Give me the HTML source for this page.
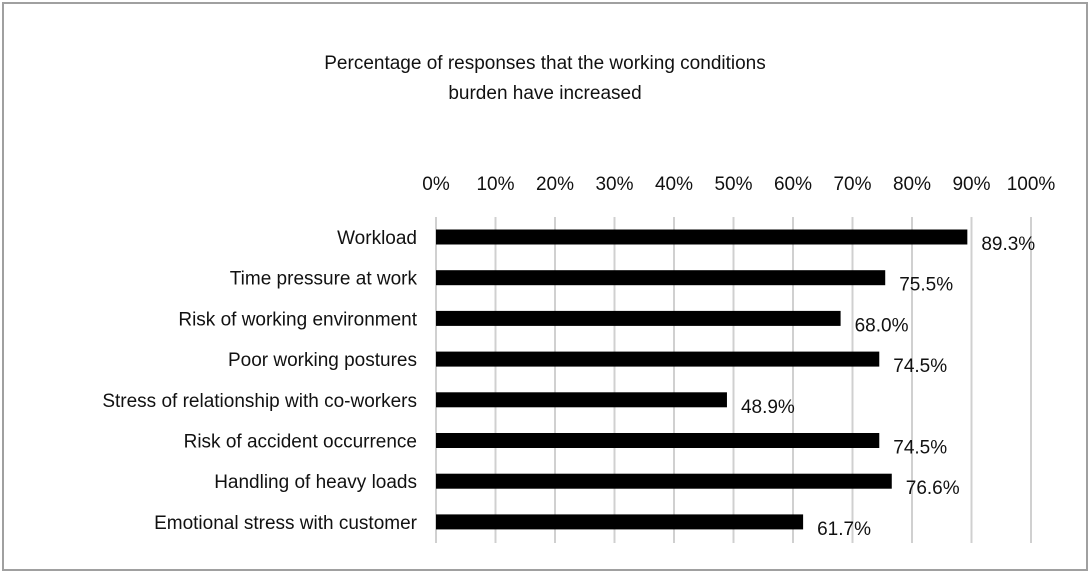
<!DOCTYPE html>
<html><head><meta charset="utf-8"><style>
body{margin:0;background:#fff;width:1090px;height:574px;overflow:hidden;font-family:"Liberation Sans",Arial,sans-serif}
svg{display:block}
</style></head><body>
<svg width="1090" height="574">
<rect x="3" y="3" width="1084" height="567" fill="#fff" stroke="#a0a0a0" stroke-width="2"/>
<text x="545" y="69" text-anchor="middle" font-size="19" fill="#111">Percentage of responses that the working conditions</text>
<text x="545" y="99" text-anchor="middle" font-size="19" fill="#111">burden have increased</text>
<g id="grid"></g><g id="ticks"></g><g id="bars"></g>
</svg>
<script>
const categories=["Workload","Time pressure at work","Risk of working environment","Poor working postures","Stress of relationship with co-workers","Risk of accident occurrence","Handling of heavy loads","Emotional stress with customer"];
const values=[89.3,75.5,68.0,74.5,48.9,74.5,76.6,61.7];
const valueLabels=["89.3%","75.5%","68.0%","74.5%","48.9%","74.5%","76.6%","61.7%"];
const tickValues=[0,10,20,30,40,50,60,70,80,90,100];
const tickLabels=["0%","10%","20%","30%","40%","50%","60%","70%","80%","90%","100%"];
const NS="http://www.w3.org/2000/svg";
const x=v=>436+v*5.95;
const y=i=>237+i*40.7;
function mk(t,a,p){const e=document.createElementNS(NS,t);for(const k in a)e.setAttribute(k,a[k]);p.appendChild(e);return e;}
const grid=document.getElementById('grid'),ticks=document.getElementById('ticks'),bars=document.getElementById('bars');
tickValues.forEach((v,i)=>{
 const l=mk('line',{x1:x(v),x2:x(v),y1:217,y2:543,stroke:'#d0d0d0','stroke-width':2},grid);
 
 
 const t=mk('text',{x:x(v),y:190,'text-anchor':'middle','font-size':19,fill:'#111'},ticks);
 t.textContent=tickLabels[i];
 
 
});
categories.forEach((c,i)=>{
 const r=mk('rect',{x:x(0),y:y(i)-7.5,width:x(values[i])-x(0),height:15,fill:'#000'},bars);
 
 
 const t=mk('text',{x:417,y:y(i)+7,'text-anchor':'end','font-size':19,fill:'#111'},bars);
 t.textContent=c;
 
 
 const v=mk('text',{x:x(values[i])+14,y:y(i)+13,'font-size':19,fill:'#111'},bars);
 v.textContent=valueLabels[i];
 
 
});
</script>
</body></html>
